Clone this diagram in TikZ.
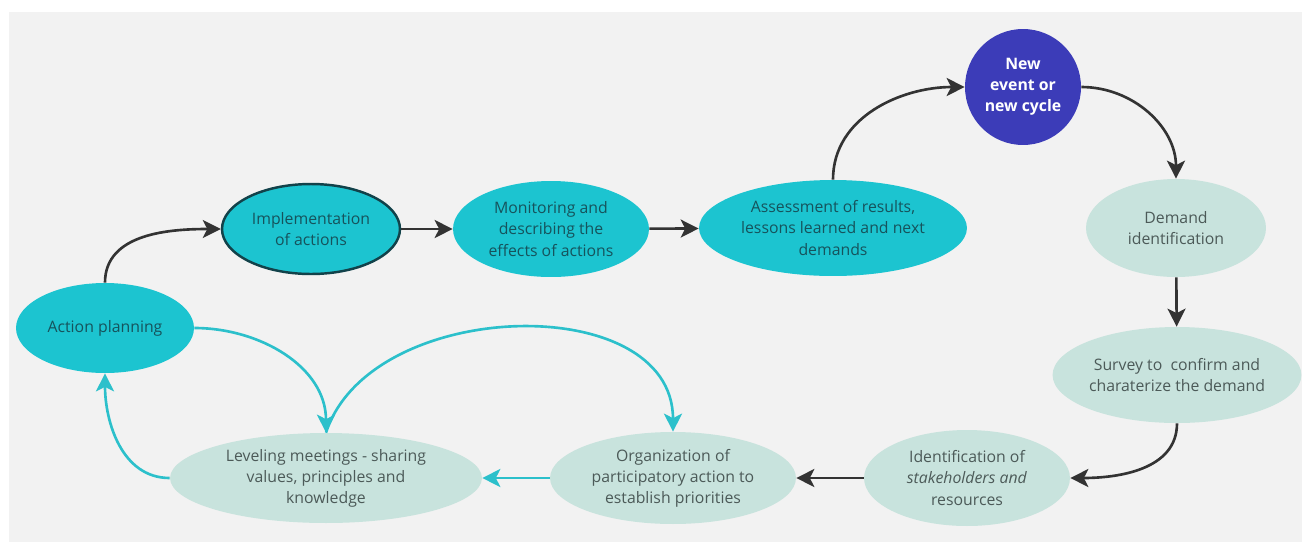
\documentclass[tikz,border=0pt]{standalone}
\usepackage{fontspec}
\setmainfont{Open Sans}
\usetikzlibrary{calc, positioning}
\usetikzlibrary{shapes.geometric}
\usetikzlibrary{arrows.meta}

\definecolor{bggray}{HTML}{F2F2F2}
\definecolor{tealfill}{HTML}{1CC4D0}
\definecolor{mintfill}{HTML}{C8E3DD}
\definecolor{navyfill}{HTML}{3C3CB8}
\definecolor{darkline}{HTML}{333333}
\definecolor{tealline}{HTML}{2CC0CB}
\definecolor{tealtext}{HTML}{16535C}
\definecolor{minttext}{HTML}{4C5A58}

\begin{document}
\begin{tikzpicture}[x=0.02cm,y=-0.02cm,
  font=\fontsize{9}{12}\selectfont,
  stage/.style={ellipse, inner sep=0pt, align=center},
  tealstage/.style={stage, fill=tealfill, text=tealtext},
  mintstage/.style={stage, fill=mintfill, text=minttext},
  darkarrow/.style={line width=1.5pt, darkline, -{Stealth[length=3.6mm, width=3.6mm, inset=0.9mm]}},
  tealarrow/.style={line width=1.5pt, tealline, -{Stealth[length=3.6mm, width=3.6mm, inset=0.9mm]}}]
\useasboundingbox (0,0) rectangle (1302,542);
\fill[white] (0,0) rectangle (1302,542);
\fill[bggray] (9,12) rectangle (1302,542);

\node[tealstage, minimum width=3.56cm, minimum height=1.8cm] (plan) at (105,328) {Action planning};
\node[tealstage, draw=tealtext!80!black, line width=1.4pt, minimum width=3.56cm, minimum height=1.8cm] (impl) at (311,229) {Implementation\\of actions};
\node[tealstage, minimum width=3.92cm, minimum height=1.92cm] (monit) at (551,229) {Monitoring and\\describing the\\effects of actions};
\node[tealstage, minimum width=5.36cm, minimum height=1.92cm] (assess) at (833,228) {Assessment of results,\\lessons learned and next\\demands};
\node[circle, fill=navyfill, text=white, font=\fontsize{9}{12}\selectfont\bfseries, align=center, inner sep=0pt, minimum size=2.32cm] (newev) at (1023,87) {New\\event or\\new cycle};
\node[mintstage, minimum width=3.6cm, minimum height=1.96cm] (demand) at (1176,228) {Demand\\identification};
\node[mintstage, minimum width=4.92cm, minimum height=1.92cm] (survey) at (1177,375) {Survey to~ confirm and\\charaterize the demand};
\node[mintstage, minimum width=4.12cm, minimum height=1.92cm] (ident) at (967,478) {Identification of\\\textit{stakeholders and}\\resources};
\node[mintstage, minimum width=4.92cm, minimum height=1.84cm] (organ) at (673,478) {Organization of\\participatory action to\\establish priorities};
\node[mintstage, minimum width=6.24cm, minimum height=1.8cm] (level) at (326,478) {Leveling meetings - sharing\\values, principles and\\knowledge};

\draw[darkarrow] (plan.north) to[out=90, in=180] (impl.west);
\draw[darkarrow] (impl) -- (monit);
\draw[darkarrow] (monit) -- (assess);
\draw[darkarrow] (assess.north) to[out=90, in=180] (newev.west);
\draw[darkarrow] (newev.east) to[out=0, in=90] (demand.north);
\draw[darkarrow] (demand) -- (survey);
\draw[darkarrow] (survey.south) to[out=-90, in=0] (ident.east);
\draw[darkarrow] (ident) -- (organ);

\draw[tealarrow] (organ) -- (level);
\draw[tealarrow] (level.west) to[out=180, in=-90] (plan.south);
\draw[tealarrow] (plan.east) to[out=0, in=90] (level.north);
\draw[tealarrow] (level.north) to[out=72, in=90, looseness=1.05] (organ.north);
\end{tikzpicture}
\end{document}
